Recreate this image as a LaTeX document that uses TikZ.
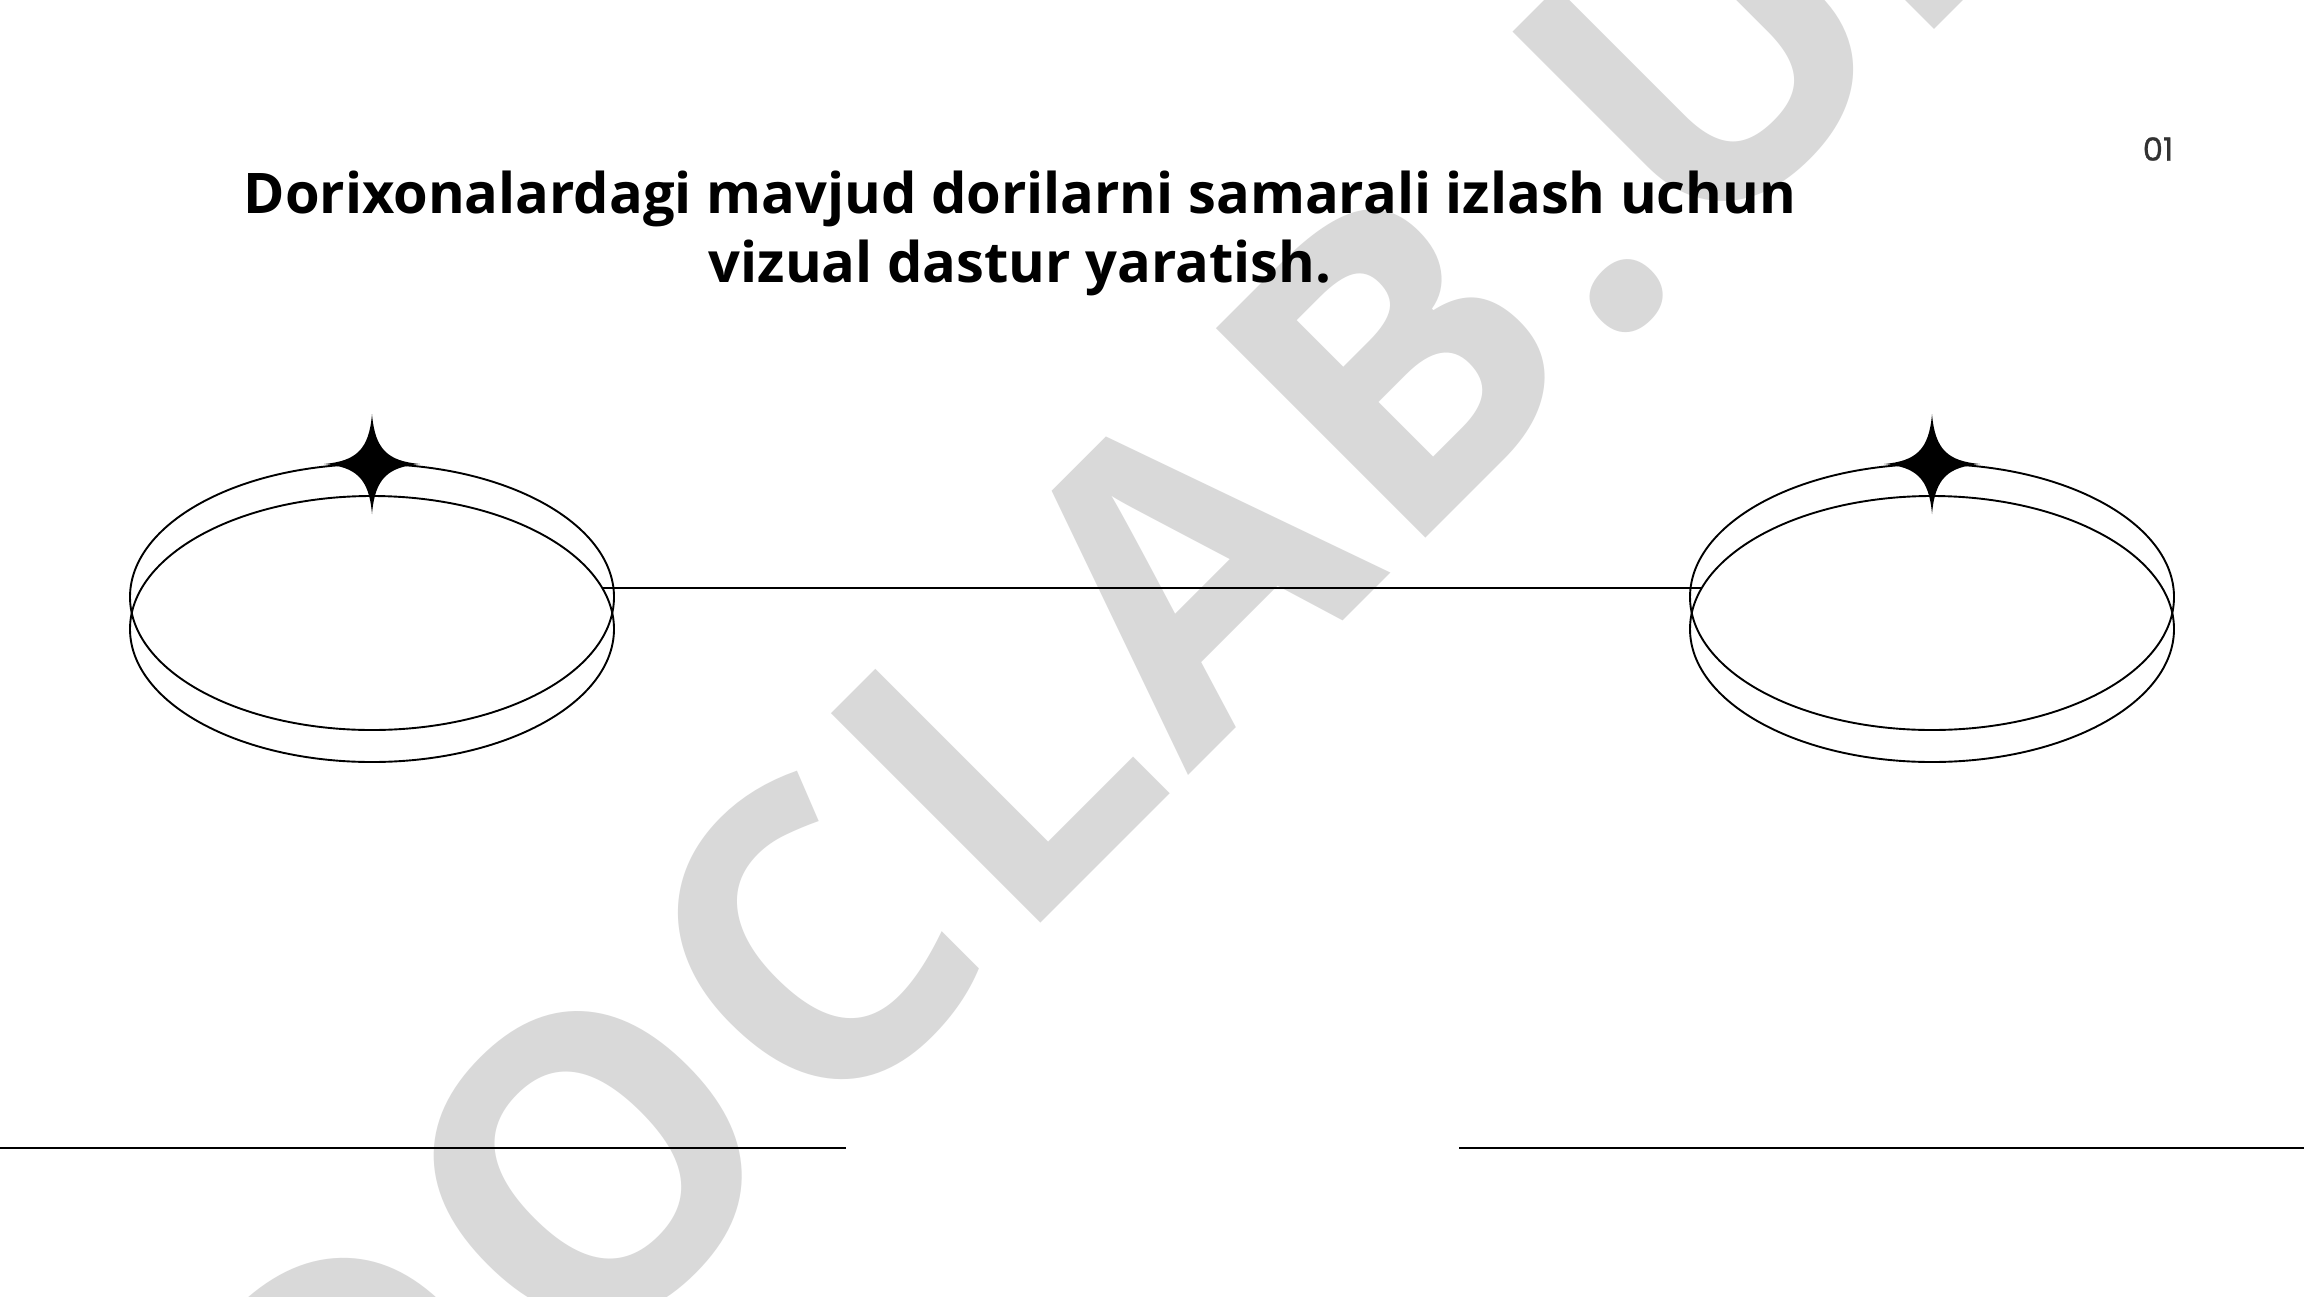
\documentclass[tikz,border=0pt]{standalone}
\usepackage{fontspec}
\setmainfont{Open Sans}
\newfontfamily\numfont[FakeBold=1]{Poppins}
\usetikzlibrary{shapes.geometric}
\definecolor{wm}{RGB}{217,217,217}
\definecolor{numgray}{RGB}{50,50,50}
\tikzset{
  ring/.style={ellipse, draw=black, line width=1.9pt, minimum width=484pt, minimum height=266pt, inner sep=0pt, outer sep=0pt},
  rule/.style={draw=black, line width=2pt},
  titletext/.style={font=\fontsize{56}{68}\selectfont\bfseries, text=black, inner sep=0pt},
  sparkle/.style={fill=black, draw=none}
}
\newcommand{\sparkleat}[1]{%
  \fill[sparkle] (#1) ++(0,-50) .. controls +(3,36) and +(-32,-3) .. ++(48,50)
     .. controls +(-32,3) and +(3,-36) .. ++(-48,50)
     .. controls +(-3,-36) and +(32,3) .. ++(-48,-50)
     .. controls +(32,-3) and +(-3,36) .. ++(48,-50) -- cycle;}
\newcommand{\wmtrack}{\kern12pt }
\begin{document}
\begin{tikzpicture}[x=1pt,y=-1pt]
\useasboundingbox (0,0) rectangle (2304,1296);
\fill[white] (0,0) rectangle (2304,1296);
\clip (0,0) rectangle (2304,1296);
% watermark
\node[rotate=45, anchor=base west, inner sep=0pt, text=wm,
      font=\fontsize{415}{415}\selectfont\bfseries] (wmark) at (351,1613)
  {D\wmtrack O\wmtrack C\wmtrack L\wmtrack A\wmtrack B\wmtrack .\wmtrack U\wmtrack Z};
% title
\node[titletext, anchor=base] (t1) at (1020,213) {Dorixonalardagi mavjud dorilarni samarali izlash uchun};
\node[titletext, anchor=base] (t2) at (1020,282) {vizual dastur yaratish.};
% page number
\node[font=\numfont\fontsize{32}{32}\selectfont, text=numgray, inner sep=0pt] (pnum) at (2158,149) {01};
% left ring
\node[ring] (lA) at (372,597) {};
\node[ring] (lB) at (372,629) {};
% right ring
\node[ring] (rA) at (1932,597) {};
\node[ring] (rB) at (1932,629) {};
\sparkleat{lA.north}
\sparkleat{rA.north}
% connector
\draw[rule] (lB.10) -- (rB.170);
% bottom rules
\coordinate (bl1) at (0,1148);
\coordinate (bl2) at (846,1148);
\coordinate (br1) at (1459,1148);
\coordinate (br2) at (2304,1148);
\draw[rule] (bl1) -- (bl2);
\draw[rule] (br1) -- (br2);
\end{tikzpicture}
\end{document}
